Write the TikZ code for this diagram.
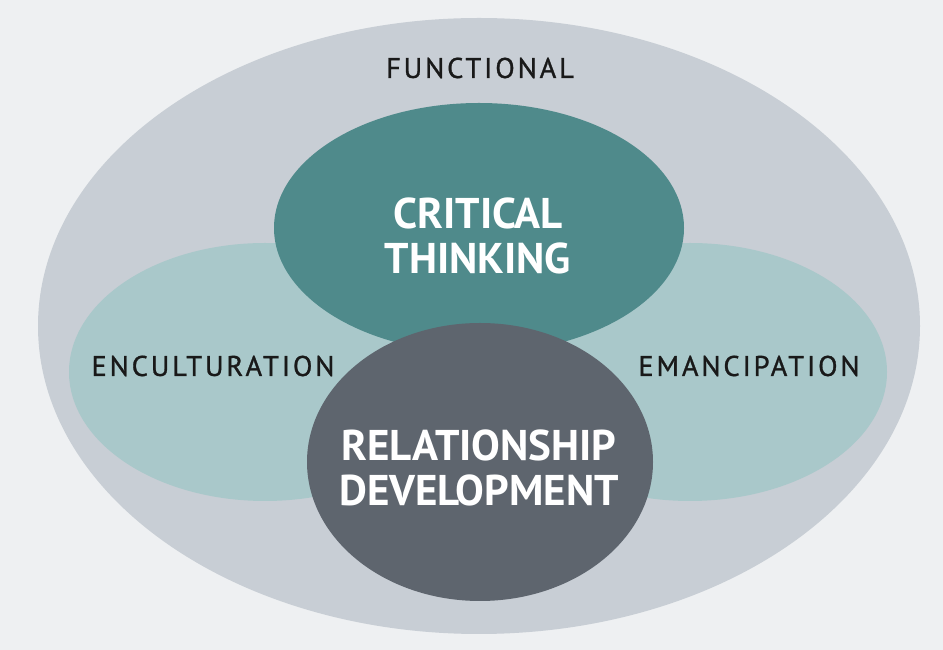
\documentclass[tikz,border=0pt]{standalone}
\usepackage{fontspec}
\setmainfont{PT Sans}
\definecolor{fundal}{HTML}{EEF0F2}
\definecolor{exterior}{HTML}{C8CED5}
\definecolor{lateral}{HTML}{A9C8CA}
\definecolor{critic}{HTML}{4F8A8B}
\definecolor{relatie}{HTML}{5E656E}
\tikzset{
  eticheta/.style={text=black!90,font=\fontsize{28.5}{30}\selectfont\addfontfeature{LetterSpace=10,FakeBold=1}},
  titlu/.style={text=white,align=center,font=\fontsize{43}{45}\selectfont\bfseries}
}
\begin{document}
\begin{tikzpicture}[x=1pt,y=1pt]
  % fundal
  \fill[fundal] (0,0) rectangle (943,650);
  \useasboundingbox (0,0) rectangle (943,650);
  % elipsa mare
  \fill[exterior] (479,324) ellipse (441 and 308);
  % elipsele laterale
  \fill[lateral] (265,278) ellipse (196 and 129);
  \fill[lateral] (690,278) ellipse (197 and 129);
  % elipsele centrale
  \fill[critic] (479,422) ellipse (205 and 125);
  \fill[relatie] (480,188) ellipse (173 and 139);
  % texte
  \node[eticheta] (functional) at (480,582) {FUNCTIONAL};
  \node[eticheta] (enculturation) at (213,284) {ENCULTURATION};
  \node[eticheta] (emancipation) at (749,284) {EMANCIPATION};
  \node[titlu] (critical) at (478,414) {CRITICAL\\THINKING};
  \node[titlu] (relationship) at (479,182) {RELATIONSHIP\\DEVELOPMENT};
\end{tikzpicture}
\end{document}
